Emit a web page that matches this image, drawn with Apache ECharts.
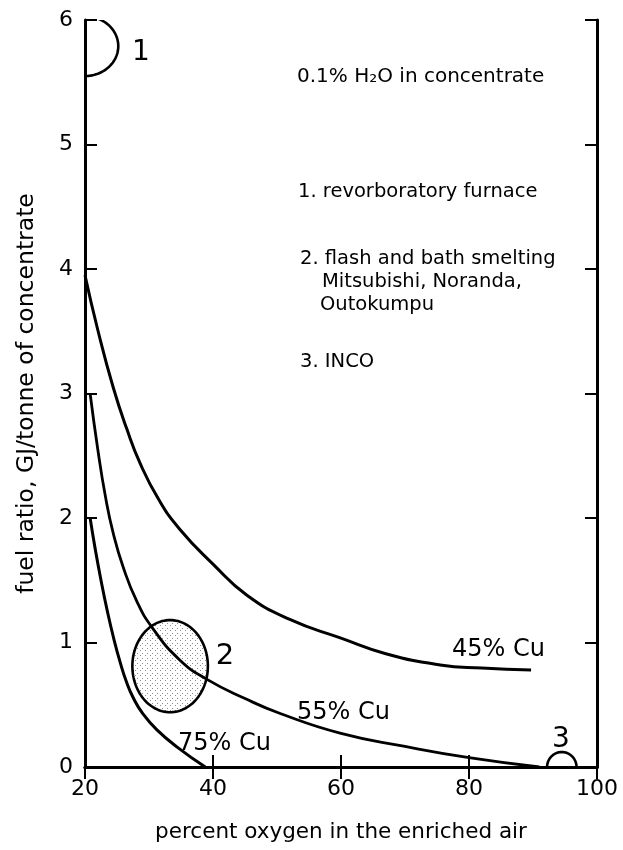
<!DOCTYPE html>
<html>
<head>
<meta charset="utf-8">
<script src="https://cdn.jsdelivr.net/npm/echarts@6/dist/echarts.min.js"></script>
<style>
html,body{margin:0;padding:0;background:#fff;}
#chart{width:623px;height:850px;}
</style>
</head>
<body>
<div id="chart"></div>
<script>
// ---- data ----
var xTicks = [20, 40, 60, 80, 100];
var yTicks = [0, 1, 2, 3, 4, 5, 6];

var cu45 = [[20,3.95],[22,3.51],[24.4,3.05],[26.5,2.72],[28.6,2.44],[31.5,2.15],[34.8,1.91],[40,1.63],[45.3,1.38],[52,1.185],[60,1.035],[67,0.91],[75.5,0.82],[82,0.795],[89.7,0.78]];
var cu55 = [[20.8,3.0],[22,2.55],[23.2,2.17],[24.4,1.88],[26,1.6],[28.1,1.33],[30.5,1.12],[34.8,0.86],[39.2,0.7],[45,0.55],[50.5,0.43],[60,0.27],[70,0.165],[80,0.075],[91,0]];
var cu75 = [[20.8,2.0],[21.6,1.75],[22.5,1.5],[23.5,1.25],[24.5,1.03],[25.5,0.84],[26.5,0.68],[27.5,0.56],[29,0.43],[31.2,0.3],[34.4,0.16],[38.8,0]];

// regions: [centre x, centre y, radius x, radius y, stippled(1/0)]
var region1 = [20, 5.79, 5.2, 0.24, 0];
var region2 = [33.3, 0.81, 5.9, 0.37, 1];
var region3 = [94.5, 0, 2.3, 0.12, 0];

var curveNames = ['45% Cu', '55% Cu', '75% Cu'];
var regionNames = ['1', '2', '3'];
var notes = ['0.1% H\u2082O in concentrate', '1. revorboratory furnace', '2. flash and bath smelting', 'Mitsubishi, Noranda,', 'Outokumpu', '3. INCO'];

// ---- stipple pattern ----
var pat = document.createElement('canvas');
pat.width = 5; pat.height = 5;
var pc = pat.getContext('2d');
pc.fillStyle = '#8a8a8a';
pc.fillRect(0, 0, 1, 1);
pc.fillRect(2, 3, 1, 1);

var FONT = 'DejaVu Sans';

function ellipseItem(params, api) {
  var cx = api.value(0), cy = api.value(1), rx = api.value(2), ry = api.value(3), filled = api.value(4);
  var pts = [];
  var N = 120;
  for (var i = 0; i <= N; i++) {
    var a = 2 * Math.PI * i / N;
    pts.push(api.coord([cx + rx * Math.cos(a), cy + ry * Math.sin(a)]));
  }
  return {
    type: 'polygon',
    shape: { points: pts },
    style: {
      fill: filled ? { image: pat, repeat: 'repeat' } : 'rgba(0,0,0,0)',
      stroke: '#000',
      lineWidth: 2.6
    }
  };
}

var axisLineStyle = { color: '#000', width: 3 };
var tickStyle = { color: '#000', width: 2 };

function txt(x, y, s, size, align) {
  return { type: 'text', x: x, y: y, style: { text: s, fontSize: size, fontFamily: FONT, fill: '#000', align: align || 'left', verticalAlign: 'middle' } };
}

var chart = echarts.init(document.getElementById('chart'), null, { renderer: 'canvas' });
chart.setOption({
  backgroundColor: '#fff',
  animation: false,
  grid: { left: 85, right: 26, top: 20, bottom: 83 },
  xAxis: [
    {
      type: 'value', position: 'bottom', min: xTicks[0], max: xTicks[xTicks.length - 1], interval: 20,
      axisLine: { show: true, lineStyle: axisLineStyle },
      axisTick: { show: true, inside: true, length: 12, lineStyle: tickStyle },
      axisLabel: { show: true, color: '#000', fontSize: 22, fontFamily: FONT, margin: 11,
        formatter: function (v) { return xTicks.indexOf(v) >= 0 ? String(v) : ''; } },
      splitLine: { show: false },
      name: 'percent oxygen in the enriched air', nameLocation: 'middle', nameGap: 54,
      nameTextStyle: { color: '#000', fontSize: 21.5, fontFamily: FONT }
    },
    {
      type: 'value', position: 'top', min: xTicks[0], max: xTicks[xTicks.length - 1], interval: 20,
      axisLine: { show: true, lineStyle: axisLineStyle },
      axisTick: { show: true, inside: true, length: 12, lineStyle: tickStyle },
      axisLabel: { show: false }, splitLine: { show: false }
    }
  ],
  yAxis: [
    {
      type: 'value', position: 'left', min: yTicks[0], max: yTicks[yTicks.length - 1], interval: 1,
      axisLine: { show: true, lineStyle: axisLineStyle },
      axisTick: { show: true, inside: true, length: 12, lineStyle: tickStyle },
      axisLabel: { show: true, color: '#000', fontSize: 22, fontFamily: FONT, margin: 12 },
      splitLine: { show: false },
      name: 'fuel ratio, GJ/tonne of concentrate', nameLocation: 'middle', nameGap: 46,
      nameTextStyle: { color: '#000', fontSize: 23.5, fontFamily: FONT }
    },
    {
      type: 'value', position: 'right', min: yTicks[0], max: yTicks[yTicks.length - 1], interval: 1,
      axisLine: { show: true, lineStyle: axisLineStyle },
      axisTick: { show: true, inside: true, length: 12, lineStyle: tickStyle },
      axisLabel: { show: false }, splitLine: { show: false }
    }
  ],
  series: [
    { type: 'custom', name: 'region ' + regionNames[0], renderItem: ellipseItem, clip: true, data: [region1], z: 1 },
    { type: 'custom', name: 'region ' + regionNames[1], renderItem: ellipseItem, clip: true, data: [region2], z: 1 },
    { type: 'custom', name: 'region ' + regionNames[2], renderItem: ellipseItem, clip: true, data: [region3], z: 1 },
    { type: 'line', name: curveNames[0], data: cu45, smooth: 0.5, showSymbol: false, lineStyle: { color: '#000', width: 3 }, z: 3 },
    { type: 'line', name: curveNames[1], data: cu55, smooth: 0.5, showSymbol: false, lineStyle: { color: '#000', width: 2.8 }, z: 3 },
    { type: 'line', name: curveNames[2], data: cu75, smooth: 0.5, showSymbol: false, lineStyle: { color: '#000', width: 3 }, z: 3 }
  ],
  graphic: [
    txt(297, 77, notes[0], 20),
    txt(298, 192, notes[1], 19.5),
    txt(300, 259, notes[2], 19.5),
    txt(322, 282, notes[3], 19.5),
    txt(320, 305, notes[4], 19.5),
    txt(300, 362, notes[5], 19.5),
    txt(452, 650, curveNames[0], 24),
    txt(297, 713, curveNames[1], 24),
    txt(178, 744, curveNames[2], 24),
    txt(141, 53, regionNames[0], 28, 'center'),
    txt(225, 656, regionNames[1], 29, 'center'),
    txt(561, 740, regionNames[2], 28, 'center')
  ]
});
</script>
</body>
</html>
